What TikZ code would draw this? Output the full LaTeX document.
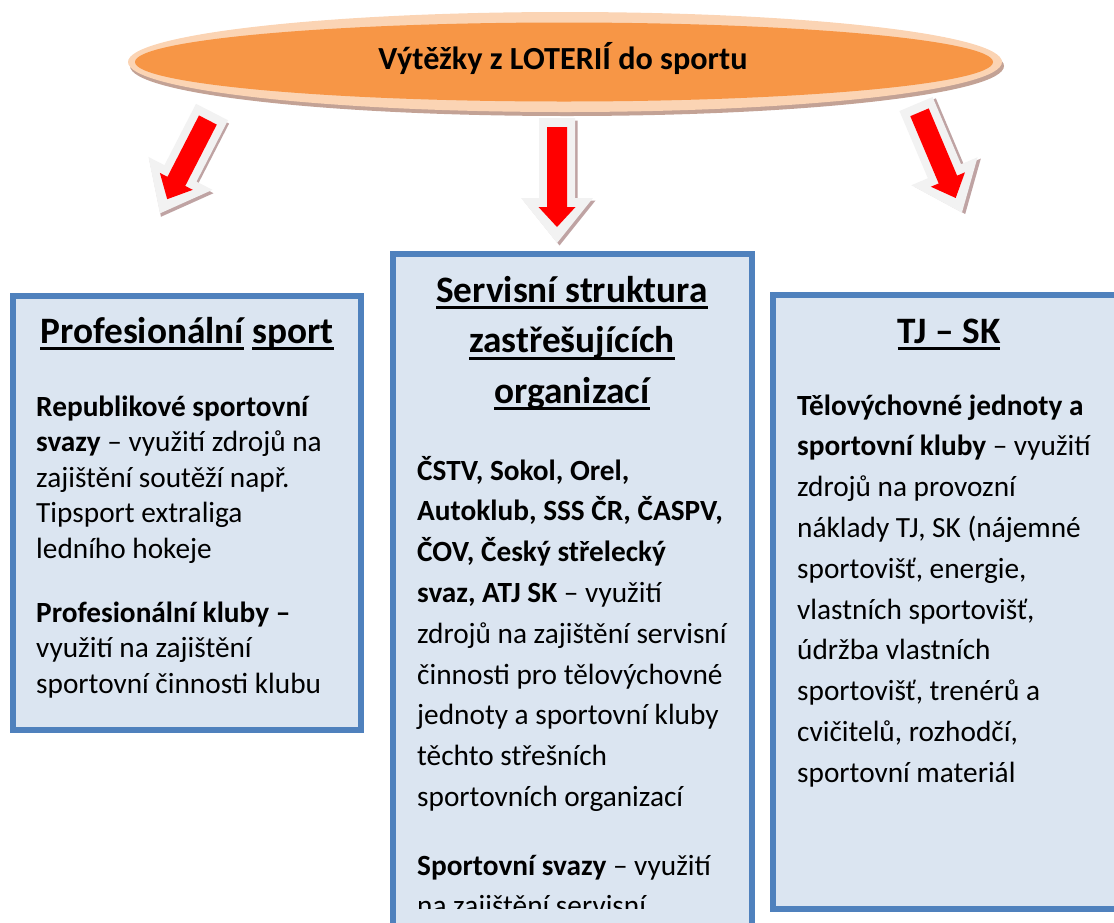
\documentclass[tikz,border=0pt]{standalone}
\usepackage{fontspec}
\setmainfont{Carlito}
\usetikzlibrary{shapes.geometric}
\definecolor{boxfill}{HTML}{DBE5F1}
\definecolor{boxline}{HTML}{4F81BD}
\definecolor{ellorange}{HTML}{F79646}
\definecolor{ellrim}{HTML}{FBD4B4}
\definecolor{ellshadow}{HTML}{C3A295}
\definecolor{arrgray}{HTML}{F2F2F2}
\definecolor{arrshadow}{HTML}{BFA3A3}
\definecolor{arrred}{HTML}{FF0000}
\newcommand\ulw[1]{\setbox0\hbox{#1}\rlap{\rule[-7pt]{\wd0}{3pt}}\box0}
\newcommand\blkarrow[4]{%
  \begin{scope}[shift={(#2)},rotate=#3]
    \coordinate (#1) at (0,0);
    \fill[arrshadow] (-15.5,2.5) -- (20.5,2.5) -- ({20.5},{#4-42.5}) -- (38.5,{#4-42.5}) -- (2.5,{#4+2.5}) -- (-33.5,{#4-42.5}) -- (-15.5,{#4-42.5}) -- cycle;
    \fill[arrgray] (-18,0) -- (18,0) -- (18,{#4-45}) -- (36,{#4-45}) -- (0,{#4}) -- (-36,{#4-45}) -- (-18,{#4-45}) -- cycle;
    \fill[arrred] (-10,9) -- (10,9) -- (10,{#4-36}) -- (18.5,{#4-36}) -- (0,{#4-16}) -- (-18.5,{#4-36}) -- (-10,{#4-36}) -- cycle;
  \end{scope}}
\tikzset{
  box/.style={rectangle, draw=boxline, fill=boxfill, line width=6pt, inner sep=0pt},
  body/.style={inner sep=0pt, anchor=base west, font=\fontsize{29.3}{35.6}\selectfont},
  bodyw/.style={inner sep=0pt, anchor=base west, font=\fontsize{29.3}{40.8}\selectfont},
  head/.style={inner sep=0pt, anchor=base, font=\bfseries\fontsize{37.3}{50.5}\selectfont},
}
\begin{document}
\begin{tikzpicture}[x=1pt,y=-1pt]
\useasboundingbox (0,0) rectangle (1114,922);
\clip (0,0) rectangle (1114,922);
% ellipse
\node[ellipse, fill=ellshadow, minimum width=874, minimum height=100, inner sep=0pt] (ellsh) at (567,66) {};
\node[ellipse, fill=ellrim, minimum width=874, minimum height=100, inner sep=0pt] (ellrim) at (565,62) {};
\node[ellipse, fill=ellorange, minimum width=858, minimum height=79, inner sep=0pt] (ell) at (564,62) {};
\node[inner sep=0pt, anchor=base, font=\bfseries\fontsize{32.2}{38}\selectfont] (title) at (563,69) {Výtěžky z LOTERIÍ do sportu};
% arrows
\blkarrow{arrL}{212,112}{-27.2}{114}
\blkarrow{arrM}{557,118}{0}{125}
\blkarrow{arrR}{916,104}{22.9}{118}
% boxes
\node[box, minimum width=348, minimum height=434] (boxL) at (187,513) {};
\node[box, minimum width=359, minimum height=746] (boxM) at (572.5,627) {};
\node[box, minimum width=355, minimum height=614] (boxR) at (950.5,602) {};
% left box text
\node[head] (hL) at (187,343) {\ulw{Profesionální}\hskip 8.4pt\ulw{sport}};
\node[body] (pL1) at (36,416) {\begin{tabular}[t]{@{}l@{}}\textbf{Republikové sportovní}\\\textbf{svazy} – využití zdrojů na\\zajištění soutěží např.\\Tipsport extraliga\\ledního hokeje\end{tabular}};
\node[body] (pL2) at (36,622) {\begin{tabular}[t]{@{}l@{}}\textbf{Profesionální kluby –}\\využití na zajištění\\sportovní činnosti klubu\end{tabular}};
% middle box text
\node[head] (hM) at (572,302) {\begin{tabular}[t]{@{}c@{}}\ulw{Servisní struktura}\\\ulw{zastřešujících}\\\ulw{organizací}\end{tabular}};
\node[bodyw] (pM1) at (417,480) {\begin{tabular}[t]{@{}l@{}}\textbf{ČSTV, Sokol, Orel,}\\\textbf{Autoklub, SSS ČR, ČASPV,}\\\textbf{ČOV, Český střelecký}\\\textbf{svaz, ATJ SK} – využití\\zdrojů na zajištění servisní\\činnosti pro tělovýchovné\\jednoty a sportovní kluby\\těchto střešních\\sportovních organizací\end{tabular}};
\begin{scope}
\clip (395,850) rectangle (750,908);
\node[bodyw] (pM2) at (417,875) {\begin{tabular}[t]{@{}l@{}}\textbf{Sportovní svazy} – využití\\na zajištění servisní\end{tabular}};
\end{scope}
% right box text
\node[head] (hR) at (949,343) {\ulw{TJ – SK}};
\node[bodyw] (pR1) at (797,415) {\begin{tabular}[t]{@{}l@{}}\textbf{Tělovýchovné jednoty a}\\\textbf{sportovní kluby} – využití\\zdrojů na provozní\\náklady TJ, SK (nájemné\\sportovišť, energie,\\vlastních sportovišť,\\údržba vlastních\\sportovišť, trenérů a\\cvičitelů, rozhodčí,\\sportovní materiál\end{tabular}};
\end{tikzpicture}
\end{document}
